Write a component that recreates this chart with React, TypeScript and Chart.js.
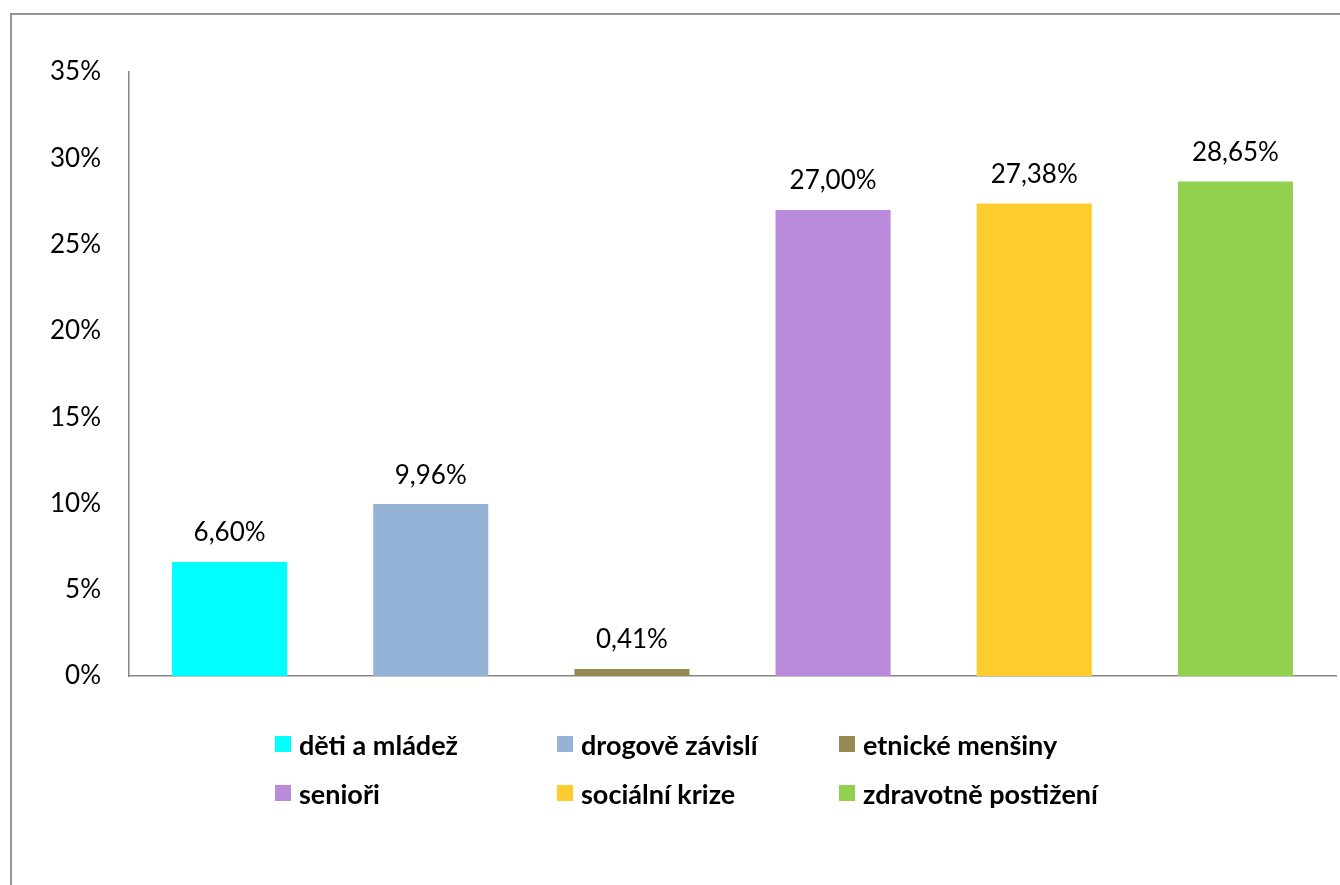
import React, { useEffect, useRef } from "react";
import { Chart, registerables } from "chart.js";

Chart.register(...registerables);

const categories = [
  "děti a mládež",
  "drogově závislí",
  "etnické menšiny",
  "senioři",
  "sociální krize",
  "zdravotně postižení",
];
const values = [6.6, 9.96, 0.41, 27.0, 27.38, 28.65];
const colors = ["#00FFFF", "#95B3D7", "#948A54", "#B98BDA", "#FFCC2E", "#92D050"];
const yTicks = [0, 5, 10, 15, 20, 25, 30, 35];

const FONT = "Lato, 'Open Sans', sans-serif";

const fmt = (v: number) => v.toFixed(2).replace(".", ",") + "%";

const valueLabels = {
  id: "valueLabels",
  afterDatasetsDraw(chart: any) {
    const ctx = chart.ctx;
    const meta = chart.getDatasetMeta(0);
    ctx.save();
    ctx.fillStyle = "#000";
    ctx.font = `26px ${FONT}`;
    ctx.textAlign = "center";
    ctx.textBaseline = "middle";
    meta.data.forEach((el: any, i: number) => {
      ctx.fillText(fmt(values[i]), el.x, el.y - 29);
    });
    ctx.restore();
  },
};

export default function App() {
  const ref = useRef<HTMLCanvasElement | null>(null);

  useEffect(() => {
    if (!ref.current) return;
    const chart = new Chart(ref.current, {
      type: "bar",
      data: {
        labels: categories,
        datasets: [
          {
            label: "podíl",
            data: values,
            backgroundColor: colors,
            borderWidth: 0,
            categoryPercentage: 1,
            barPercentage: 0.572,
          },
        ],
      },
      options: {
        animation: false,
        responsive: false,
        layout: { padding: { left: 0, top: 72, right: 4, bottom: 209 } },
        plugins: {
          legend: { display: false },
          tooltip: { enabled: false },
        },
        scales: {
          x: {
            ticks: { display: false },
            grid: { display: false, drawTicks: false },
            border: { display: true, color: "#868686", width: 1.5 },
          },
          y: {
            min: 0,
            max: 35,
            afterFit: (s: any) => {
              s.width = 129;
            },
            afterBuildTicks: (s: any) => {
              s.ticks = yTicks.map((v) => ({ value: v }));
            },
            ticks: {
              padding: 28,
              color: "#000",
              font: { family: FONT, size: 26 },
              callback: (v: any) => v + "%",
            },
            grid: { display: false, drawTicks: false },
            border: { display: true, color: "#868686", width: 1.5 },
          },
        },
      },
      plugins: [valueLabels],
    });
    return () => chart.destroy();
  }, []);

  const legendCols = [275, 557, 839];
  const legendRows = [745, 794];

  return (
    <div
      style={{
        position: "absolute",
        left: 0,
        top: 0,
        width: 1340,
        height: 885,
        overflow: "hidden",
        background: "#fff",
      }}
    >
      <div
        style={{
          position: "absolute",
          left: 10,
          top: 13,
          width: 1400,
          height: 1000,
          borderLeft: "2px solid #959595",
          borderTop: "2px solid #959595",
          boxSizing: "border-box",
        }}
      />
      <canvas
        ref={ref}
        width={1340}
        height={885}
        style={{ position: "absolute", left: 0, top: 0, width: 1340, height: 885 }}
      />
      {categories.map((c, i) => {
        const x = legendCols[i % 3];
        const y = legendRows[Math.floor(i / 3)];
        return (
          <div
            key={c}
            style={{
              position: "absolute",
              left: x,
              top: y - 18,
              height: 34,
              display: "flex",
              alignItems: "center",
              whiteSpace: "nowrap",
              fontFamily: FONT,
              fontWeight: 700,
              fontSize: 27,
              color: "#000",
            }}
          >
            <span
              style={{
                display: "inline-block",
                width: 16,
                height: 16,
                background: colors[i],
                marginRight: 8,
              }}
            />
            <span>{c}</span>
          </div>
        );
      })}
    </div>
  );
}
